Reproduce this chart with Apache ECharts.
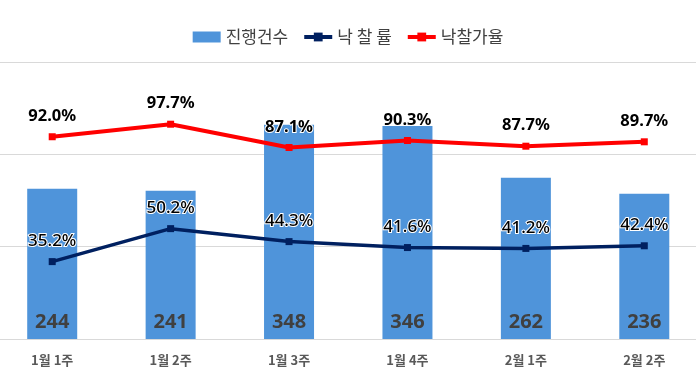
<!DOCTYPE html>
<html>
<head>
<meta charset="utf-8">
<script src="https://cdn.jsdelivr.net/npm/echarts@6/dist/echarts.min.js"></script>
<style>
html,body{margin:0;padding:0;background:#fff;}
#chart{width:696px;height:388px;}
</style>
</head>
<body>
<div id="chart"></div>
<script>
const categories = ['1월 1주', '1월 2주', '1월 3주', '1월 4주', '2월 1주', '2월 2주'];
const caseCounts = [244, 241, 348, 346, 262, 236];
const winRate = [35.2, 50.2, 44.3, 41.6, 41.2, 42.4];
const bidPriceRate = [92.0, 97.7, 87.1, 90.3, 87.7, 89.7];
const seriesNames = ['진행건수', '낙 찰 률', '낙찰가율'];

const FONT = '"Noto Sans", "Noto Sans CJK KR", sans-serif';
const chart = echarts.init(document.getElementById('chart'), null, {renderer: 'canvas'});
chart.setOption({
  animation: false,
  backgroundColor: '#ffffff',
  textStyle: {fontFamily: FONT},
  legend: {
    top: 23,
    left: 'center',
    itemWidth: 28,
    itemHeight: 11,
    itemGap: 14,
    textStyle: {fontFamily: '"Noto Sans CJK KR", sans-serif', fontSize: 17, color: '#404040', lineHeight: 18},
    data: [
      {name: seriesNames[0], icon: 'rect'},
      {name: seriesNames[1], lineStyle: {width: 4}},
      {name: seriesNames[2], lineStyle: {width: 4}}
    ]
  },
  grid: {left: -7, right: -7.5, top: 62, bottom: 49, containLabel: false, outerBoundsMode: 'none'},
  xAxis: {
    type: 'category',
    data: categories,
    axisTick: {show: false},
    axisLine: {lineStyle: {color: '#d9d9d9', width: 1}},
    axisLabel: {fontFamily: '"Noto Sans CJK KR", sans-serif', fontSize: 13, fontWeight: 'bold', color: '#595959', margin: 15}
  },
  yAxis: [
    {
      type: 'value', min: 0, max: 450, interval: 150,
      axisLabel: {show: false}, axisLine: {show: false}, axisTick: {show: false},
      splitLine: {lineStyle: {color: '#d9d9d9', width: 1}}
    },
    {
      type: 'value', min: 0, max: 126,
      axisLabel: {show: false}, axisLine: {show: false}, axisTick: {show: false},
      splitLine: {show: false}
    }
  ],
  series: [
    {
      name: seriesNames[0],
      type: 'bar',
      data: caseCounts,
      barWidth: 50,
      yAxisIndex: 0,
      itemStyle: {color: '#4f94da'},
      label: {
        show: true, position: 'insideBottom', distance: 7,
        fontFamily: FONT, fontSize: 20, fontWeight: 'bold', color: '#404040', lineHeight: 20
      }
    },
    {
      name: seriesNames[1],
      type: 'line',
      data: winRate,
      yAxisIndex: 1,
      symbol: 'rect', symbolSize: 7,
      lineStyle: {color: '#002060', width: 3.5},
      itemStyle: {color: '#002060'},
      z: 5,
      label: {
        show: true, position: 'top', distance: 7,
        formatter: p => p.value.toFixed(1) + '%',
        fontFamily: FONT, fontSize: 17, fontWeight: 500, color: '#000', lineHeight: 20,
        textBorderColor: '#ffffff', textBorderWidth: 2
      }
    },
    {
      name: seriesNames[2],
      type: 'line',
      data: bidPriceRate,
      yAxisIndex: 1,
      symbol: 'rect', symbolSize: 7,
      lineStyle: {color: '#ff0000', width: 4},
      itemStyle: {color: '#ff0000'},
      z: 5,
      label: {
        show: true, position: 'top', distance: 7,
        formatter: p => p.value.toFixed(1) + '%',
        fontFamily: FONT, fontSize: 16.5, fontWeight: 'bold', color: '#000', lineHeight: 20,
        textBorderColor: '#ffffff', textBorderWidth: 2
      }
    }
  ]
});
</script>
</body>
</html>
